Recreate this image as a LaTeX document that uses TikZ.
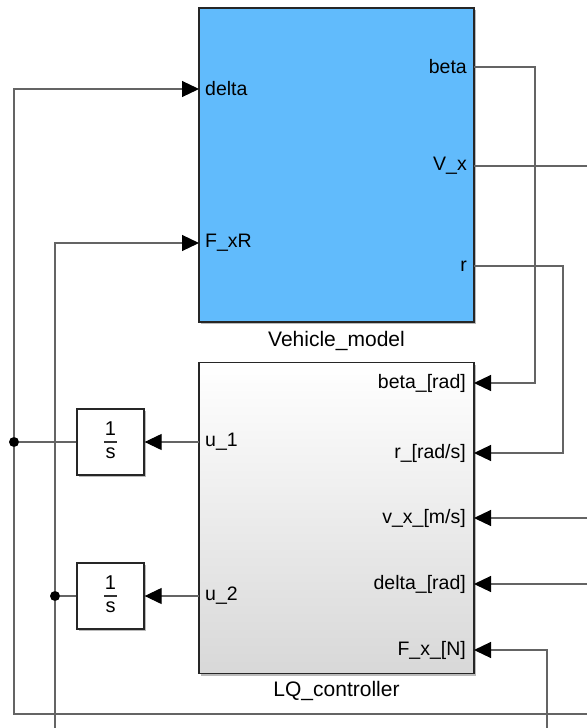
\documentclass[tikz,border=0pt]{standalone}
\usepackage{fontspec}
\setmainfont{Liberation Sans}
\usetikzlibrary{arrows.meta,shadows,calc}
\definecolor{vblue}{RGB}{97,187,252}
\definecolor{wirec}{RGB}{100,100,100}
\definecolor{lqbot}{RGB}{216,216,216}
\tikzset{
  wire/.style={draw=wirec,line width=1.2pt},
  arr/.style={wire,-{Triangle[length=17pt,width=16pt,fill=black,color=black]}},
  blockshadow/.style={drop shadow={shadow xshift=2pt,shadow yshift=-2pt,opacity=0.45,fill=black!60}},
  lbl/.style={font=\fontsize{21}{23}\selectfont,inner sep=0pt},
  plabel/.style={font=\fontsize{19.5}{22}\selectfont,inner sep=0pt},
  fraclbl/.style={font=\fontsize{20}{22}\selectfont,inner sep=0pt},
  junc/.style={circle,fill=black,inner sep=0pt,minimum size=10pt},
  intbox/.style={draw=black!85,line width=1.3pt,fill=white,minimum width=67pt,minimum height=66pt,inner sep=0pt,blockshadow},
}
\begin{document}
\begin{tikzpicture}[x=1pt,y=-1pt]
\useasboundingbox (0,0) rectangle (587,728);
% Vehicle model
\node[draw=black!85,line width=1.3pt,fill=vblue,blockshadow,minimum width=275pt,minimum height=314pt,inner sep=0pt] (vm) at (336.5,165) {};
\node[lbl] (vmlabel) at (336.5,341) {Vehicle\_model};
% LQ controller
\node[draw=black!85,line width=1.3pt,top color=white,bottom color=lqbot,blockshadow,minimum width=275pt,minimum height=311pt,inner sep=0pt] (lq) at (336.5,518) {};
\node[lbl] (lqlabel) at (336.5,691) {LQ\_controller};
% vehicle ports
\coordinate (vdelta) at (199,89);
\coordinate (vfxr) at (199,243);
\coordinate (vbeta) at (474,67);
\coordinate (vvx) at (474,166);
\coordinate (vr) at (474,266);
\node[plabel,anchor=west] (tdelta) at (205,89) {delta};
\node[plabel,anchor=west] (tfxr) at (205,243) {F\_xR};
\node[plabel,anchor=east] (tbeta) at (467,67) {beta};
\node[plabel,anchor=east] (tvx) at (467,166) {V\_x};
\node[plabel,anchor=east] (tr) at (467,266) {r};
% LQ ports
\coordinate (lbeta) at (474,383);
\coordinate (lr) at (474,453);
\coordinate (lvx) at (474,518);
\coordinate (ldelta) at (474,584);
\coordinate (lfx) at (474,650);
\coordinate (lu1) at (199,442);
\coordinate (lu2) at (199,596);
\node[plabel,anchor=east] (tlbeta) at (466,383) {beta\_[rad]};
\node[plabel,anchor=east] (tlr) at (466,453) {r\_[rad/s]};
\node[plabel,anchor=east] (tlvx) at (466,518) {v\_x\_[m/s]};
\node[plabel,anchor=east] (tldelta) at (466,584) {delta\_[rad]};
\node[plabel,anchor=east] (tlfx) at (466,650) {F\_x\_[N]};
\node[plabel,anchor=west] (tu1) at (205,442) {u\_1};
\node[plabel,anchor=west] (tu2) at (205,596) {u\_2};
% integrators
\node[intbox] (int1) at (110.5,442) {};
\node[intbox] (int2) at (110.5,596) {};
\node[fraclbl] (n1) at (110.5,429) {1};
\node[fraclbl] (d1) at (110.5,453) {s};
\draw[line width=1.3pt,black!80] (104,442) -- (117,442);
\node[fraclbl] (n2) at (110.5,583) {1};
\node[fraclbl] (d2) at (110.5,607) {s};
\draw[line width=1.3pt,black!80] (104,596) -- (117,596);
% junctions
\node[junc] (j1) at (14,442) {};
\node[junc] (j2) at (55,596) {};
% free ends
\coordinate (evx) at (587,166);
\coordinate (ivx) at (587,518);
\coordinate (idelta) at (587,584);
\coordinate (ifx) at (547,728);
\coordinate (bl) at (14,714);
\coordinate (br) at (587,714);
\coordinate (e2) at (55,728);
% wires
\draw[wire] (vvx) -- (evx);
\draw[arr] (vbeta) -| (535,383) -- (lbeta);
\draw[arr] (vr) -| (563,453) -- (lr);
\draw[arr] (ivx) -- (lvx);
\draw[arr] (idelta) -- (ldelta);
\draw[arr] (ifx) |- (lfx);
\draw[arr] (lu1) -- (int1.east);
\draw[arr] (lu2) -- (int2.east);
\draw[wire] (int1.west) -- (j1);
\draw[wire] (int2.west) -- (j2);
\draw[arr] (j1) |- (vdelta);
\draw[arr] (j2) |- (vfxr);
\draw[wire] (j1) -- (bl) -- (br);
\draw[wire] (j2) -- (e2);
\end{tikzpicture}
\end{document}
